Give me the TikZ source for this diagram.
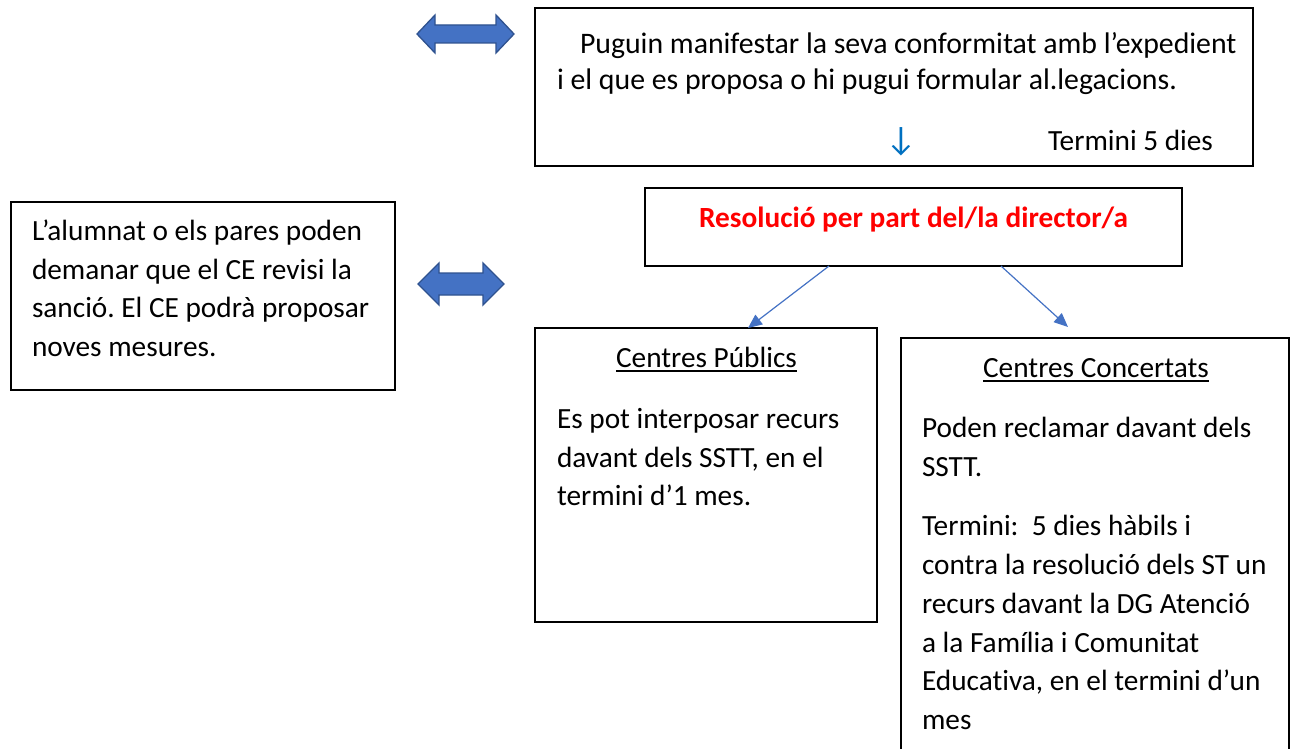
\documentclass[tikz,border=0pt]{standalone}
\usepackage{fontspec}
\setmainfont{Carlito}[Ligatures={NoCommon}]
\usetikzlibrary{arrows.meta,calc}
\definecolor{arrblue}{HTML}{4472C4}
\definecolor{arredge}{HTML}{2F528F}
\definecolor{smallblue}{HTML}{0070C0}
\newcommand\txtA{\fontsize{29.3}{38.7}\selectfont}
\newcommand\txtB{\fontsize{29.8}{36}\selectfont}
\frenchspacing
\begin{document}
\begin{tikzpicture}[x=1pt,y=-1pt,
  box/.style={draw=black,line width=1.3pt,inner sep=0pt,outer sep=0pt,anchor=north west},
  para/.style={inner sep=0pt,outer sep=0pt,align=left,anchor=north west,font=\txtA},
  line/.style={inner sep=0pt,outer sep=0pt,font=\txtA},
  conn/.style={draw=arrblue,line width=1.2pt,-{Triangle[length=14pt,width=12pt]}},
  dbl/.style={fill=arrblue,draw=arredge,line width=1.3pt,line join=miter},
  uline/.style={line width=1.5pt}]
\useasboundingbox (0,0) rectangle (1296,749);
\clip (0,0) rectangle (1296,749);

% boxes
\node[box,minimum width=718pt,minimum height=158pt] (top) at (535,8) {};
\node[box,minimum width=537pt,minimum height=78pt] (resol) at (645,188) {};
\node[box,minimum width=384pt,minimum height=188pt] (left) at (11,202) {};
\node[box,minimum width=342pt,minimum height=294pt] (publ) at (535,328) {};
\node[box,minimum width=388pt,minimum height=422pt] (conc) at (901,338) {};

% double arrows
\filldraw[dbl] (417,34) -- (435,15) -- (435,25) -- (496,25) -- (496,15) -- (514,34)
  -- (496,53) -- (496,43) -- (435,43) -- (435,53) -- cycle;
\filldraw[dbl] (418,284) -- (439,263) -- (439,273) -- (483,273) -- (483,263) -- (504,284)
  -- (483,305) -- (483,295) -- (439,295) -- (439,305) -- cycle;

% top box text
\node[para,font=\txtB] (ttxt) at (557,28.3) {\strut\hspace*{23pt}Puguin manifestar la seva conformitat amb l’expedient\\i el que es proposa o hi pugui formular al.legacions.};
\node[line,anchor=base west] (term) at (1048,150) {Termini 5 dies};
\node[inner sep=0pt,text=smallblue,font=\fontsize{34}{34}\selectfont] (down) at (901,141.5) {↓};

% resolution
\node[line,anchor=base,font=\txtA\bfseries,text=red] (rtxt) at (913.5,227) {Resolució per part del/la director/a};

% left text
\node[para] (ltxt) at (32,213.4) {\strut L’alumnat o els pares poden\\demanar que el CE revisi la\\sanció. El CE podrà proposar\\noves mesures.};

% publics
\node[line,anchor=base] (ptitle) at (706.5,367) {Centres Públics};
\draw[uline] ([yshift=-4pt]ptitle.base west) -- ([yshift=-4pt]ptitle.base east);
\node[para] (ptxt) at (557,401.4) {\strut Es pot interposar recurs\\davant dels SSTT, en el\\termini d’1 mes.};

% concertats
\node[line,anchor=base] (ctitle) at (1096,377) {Centres Concertats};
\draw[uline] ([yshift=-4pt]ctitle.base west) -- ([yshift=-4pt]ctitle.base east);
\node[para] (ctxtA) at (922,410.9) {\strut Poden reclamar davant dels\\SSTT.};
\node[para] (ctxtB) at (922,508.9) {\strut Termini:\ \ 5 dies hàbils i\\contra la resolució dels ST un\\recurs davant la DG Atenció\\a la Família i Comunitat\\Educativa, en el termini d’un\\mes};

% connectors
\draw[conn] ([xshift=184pt]resol.south west) -- ([xshift=213pt]publ.north west);
\draw[conn] ([xshift=356pt]resol.south west) -- ([xshift=167pt,yshift=11pt]conc.north west);
\end{tikzpicture}
\end{document}
